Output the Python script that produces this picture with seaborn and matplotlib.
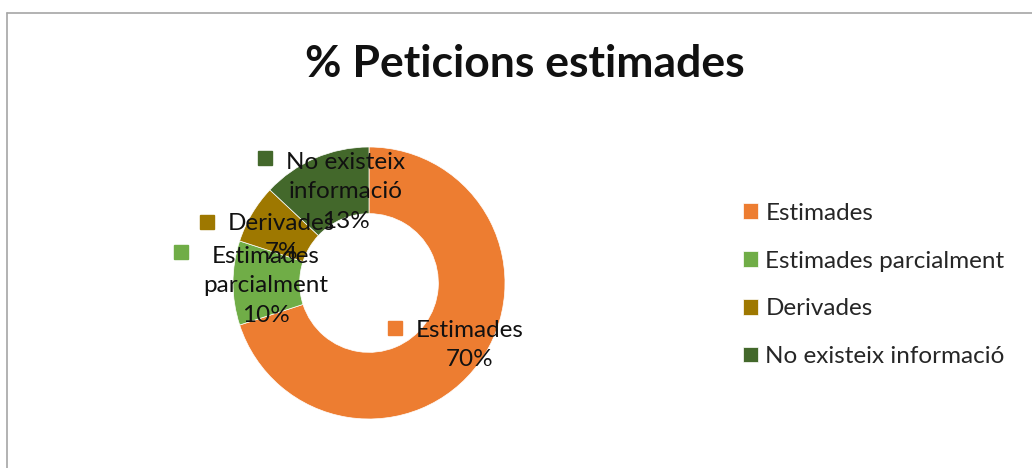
import textwrap
import matplotlib.pyplot as plt
import seaborn as sns
from matplotlib.lines import Line2D

# Chart data
categories = ["Estimades", "Estimades parcialment", "Derivades", "No existeix informació"]
percentages = [70, 10, 7, 13]
colors = ["#ED7D31", "#70AD47", "#9E7800", "#43682B"]
title = "% Peticions estimades"

W, H = 1032, 468
sns.set_theme(style="white")
plt.rcParams["font.family"] = ["Lato", "DejaVu Sans"]

fig = plt.figure(figsize=(W / 100, H / 100), dpi=100)

# donut centre (369, 283) px, outer radius 136 px
cx, cy, r = 369, 283, 136
ax = fig.add_axes([(cx - r) / W, (H - cy - r) / H, 2 * r / W, 2 * r / H])
wedges, _ = ax.pie(
    percentages,
    colors=colors,
    startangle=90,
    counterclock=False,
    wedgeprops=dict(width=0.49, edgecolor="white", linewidth=0.5),
)
ax.set_xlim(-1, 1)
ax.set_ylim(-1, 1)
ax.set_aspect("equal")


def px(x, y):
    return x / W, 1 - y / H


# data label layout: block centre and key-square centre, in pixels
label_layout = [
    ((470, 345), (395, 328)),
    ((266, 286), (181, 252)),
    ((281, 238), (207, 222)),
    ((346, 192), (265, 158)),
]
for cat, pct, col, (tpos, kpos) in zip(categories, percentages, colors, label_layout):
    txt = textwrap.fill(cat, 11) + f"\n{pct}%"
    fig.text(*px(*tpos), txt, ha="center", va="center", fontsize=17.5,
             linespacing=1.5, color="#111111")
    fig.add_artist(Line2D([px(*kpos)[0]], [px(*kpos)[1]], marker="s",
                          markersize=10.5, color=col, linestyle="none"))

fig.text(*px(525, 64), title, ha="center", va="center", fontsize=32,
         fontweight="bold", color="#111111")

fig.legend(
    wedges, categories,
    loc="center left", bbox_to_anchor=px(743, 285),
    frameon=False, fontsize=17.5, handlelength=0.62, handleheight=0.62,
    handletextpad=0.3, labelspacing=1.1, borderaxespad=0, borderpad=0,
)

# chart area border (left and top edges visible)
border = "#A6A6A6"
fig.add_artist(Line2D([px(6.5, 0)[0]] * 2, [px(0, 12.5)[1], 0], color=border, lw=1.2))
fig.add_artist(Line2D([px(6.5, 0)[0], 1], [px(0, 12.5)[1]] * 2, color=border, lw=1.2))

fig.savefig("out.png", dpi=100, facecolor="white")
